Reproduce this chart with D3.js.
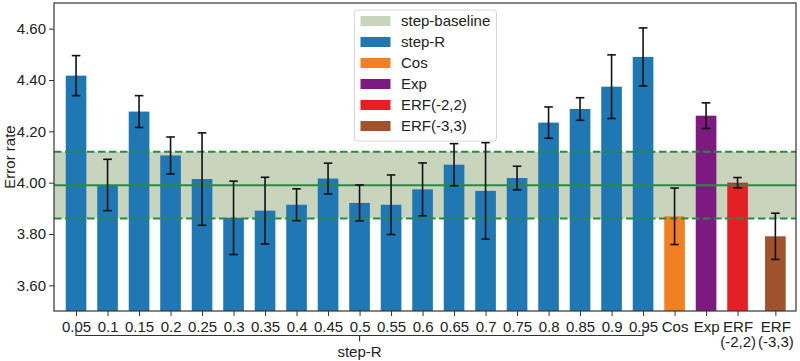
<!DOCTYPE html>
<html>
<head>
<meta charset="utf-8">
<script src="https://cdn.jsdelivr.net/npm/d3@7"></script>
<style>
  body { margin: 0; background: #fff; }
  svg { display: block; font-family: "Liberation Sans", Arial, sans-serif; }
</style>
</head>
<body>
<svg id="chart" width="800" height="361"></svg>
<script>
// Categories (x axis)
const categories = ["0.05", "0.1", "0.15", "0.2", "0.25", "0.3", "0.35", "0.4", "0.45", "0.5",
    "0.55", "0.6", "0.65", "0.7", "0.75", "0.8", "0.85", "0.9", "0.95",
    "Cos", "Exp", "ERF\n(-2,2)", "ERF\n(-3,3)"];

// Mean error rate per category
const values = [4.417, 3.991, 4.277, 4.106, 4.014, 3.863, 3.891, 3.914, 4.016, 3.921,
    3.914, 3.974, 4.070, 3.968, 4.018, 4.234, 4.287, 4.374, 4.490,
    3.869, 4.261, 4.000, 3.791];

// Error bar half-widths
const errors = [0.078, 0.100, 0.062, 0.072, 0.180, 0.143, 0.130, 0.062, 0.060, 0.070,
    0.116, 0.103, 0.082, 0.188, 0.046, 0.061, 0.044, 0.124, 0.113,
    0.110, 0.050, 0.020, 0.090];

// Group of each bar (used for colour)
const groups = categories.map((c, i) => i < 19 ? "step-R" : ["Cos", "Exp", "ERF(-2,2)", "ERF(-3,3)"][i - 19]);

// Baseline (mean and band)
const baselineMean = 3.99;
const baselineBand = [3.86, 4.12];

// Y ticks
const yTicks = [3.6, 3.8, 4.0, 4.2, 4.4, 4.6];

// Legend entries
const legendKeys = ["step-baseline", "step-R", "Cos", "Exp", "ERF(-2,2)", "ERF(-3,3)"];

const colors = {
    "step-baseline": "#c8d5bc",
    "step-R": "#1f77b4",
    "Cos": "#f28022",
    "Exp": "#7d1a7f",
    "ERF(-2,2)": "#e41f26",
    "ERF(-3,3)": "#a0522d"
};
const lineGreen = "#2a8a45";
const fontSize = "15px";

// Dimensions
const margin = {top: 3, right: 4, bottom: 50, left: 54};
const width = 800 - margin.left - margin.right;
const height = 361 - margin.top - margin.bottom;

const svg = d3.select("#chart");
const g = svg.append("g").attr("transform", `translate(${margin.left},${margin.top})`);

// Scales: slot index -> pixels (last bar sits a little further right, as in the original)
const lastGap = 0.2;
const slot = i => i === categories.length - 1 ? i + lastGap : i;
const x = d3.scaleLinear()
    .domain([-0.7, 22.855])
    .range([0, width]);
const xc = i => x(slot(i));
const barWidth = (x(1) - x(0)) * 0.655;

const y = d3.scaleLinear()
    .domain([3.5, 4.7])
    .range([height, 0]);

// Baseline band
g.append("rect")
    .attr("x", 0)
    .attr("width", width)
    .attr("y", y(baselineBand[1]))
    .attr("height", y(baselineBand[0]) - y(baselineBand[1]))
    .style("fill", colors["step-baseline"]);

// Bars
g.selectAll("rect.bar")
    .data(values)
    .enter()
    .append("rect")
    .attr("class", "bar")
    .attr("x", (d, i) => xc(i) - barWidth / 2)
    .attr("width", barWidth)
    .attr("y", d => y(d))
    .attr("height", d => height - y(d))
    .style("fill", (d, i) => colors[groups[i]]);

// Baseline lines (solid mean, dashed band edges)
g.append("line")
    .attr("x1", 0).attr("x2", width)
    .attr("y1", y(baselineMean)).attr("y2", y(baselineMean))
    .style("stroke", lineGreen).style("stroke-width", 2);

baselineBand.forEach(v => {
    g.append("line")
        .attr("x1", 0).attr("x2", width)
        .attr("y1", y(v)).attr("y2", y(v))
        .style("stroke", lineGreen).style("stroke-width", 2)
        .style("stroke-dasharray", "7.5,3.5");
});

// Error bars
const capW = 4.3;
const eb = g.selectAll("g.err")
    .data(values)
    .enter()
    .append("g")
    .attr("class", "err")
    .style("stroke", "#111")
    .style("stroke-width", 1.6);

eb.append("line")
    .attr("x1", (d, i) => xc(i)).attr("x2", (d, i) => xc(i))
    .attr("y1", (d, i) => y(d - errors[i])).attr("y2", (d, i) => y(d + errors[i]));
eb.append("line")
    .attr("x1", (d, i) => xc(i) - capW).attr("x2", (d, i) => xc(i) + capW)
    .attr("y1", (d, i) => y(d + errors[i])).attr("y2", (d, i) => y(d + errors[i]));
eb.append("line")
    .attr("x1", (d, i) => xc(i) - capW).attr("x2", (d, i) => xc(i) + capW)
    .attr("y1", (d, i) => y(d - errors[i])).attr("y2", (d, i) => y(d - errors[i]));

// Frame
g.append("rect")
    .attr("width", width).attr("height", height)
    .style("fill", "none").style("stroke", "#333").style("stroke-width", 1.2);

// Y axis
const yAxis = g.append("g")
    .call(d3.axisLeft(y).tickValues(yTicks).tickFormat(d3.format(".2f")).tickSize(5).tickPadding(3));
yAxis.select(".domain").remove();
yAxis.selectAll("line").style("stroke", "#333");
yAxis.selectAll("text").style("font-size", fontSize).style("fill", "#222");

svg.append("text")
    .attr("transform", `translate(15,${margin.top + height / 2}) rotate(-90)`)
    .attr("text-anchor", "middle")
    .style("font-size", fontSize)
    .style("fill", "#222")
    .text("Error rate");

// X axis (multi-line labels)
const xAxis = g.append("g")
    .attr("transform", `translate(0,${height})`)
    .call(d3.axisBottom(x)
        .tickValues(categories.map((c, i) => slot(i)))
        .tickFormat((d, i) => categories[i])
        .tickSize(5).tickPadding(5));
xAxis.select(".domain").remove();
xAxis.selectAll("line").style("stroke", "#333");
xAxis.selectAll("text")
    .style("font-size", fontSize)
    .style("fill", "#222")
    .each(function(d, i) {
        const t = d3.select(this);
        const lines = categories[i].split("\n");
        t.text(null);
        lines.forEach((l, k) => {
            t.append("tspan")
                .attr("x", 0)
                .attr("dy", k === 0 ? "0.71em" : "1.05em")
                .text(l);
        });
    });

// Bracket under the step-R group
const bx0 = xc(0);
const bx1 = xc(18);
const by = height + 24.5;
const bracket = g.append("g").style("stroke", "#333").style("stroke-width", 1.2).style("fill", "none");
bracket.append("path")
    .attr("d", `M${bx0},${by - 6}V${by}H${bx1}V${by - 6}`);
bracket.append("line")
    .attr("x1", (bx0 + bx1) / 2).attr("x2", (bx0 + bx1) / 2)
    .attr("y1", by).attr("y2", by + 6);
g.append("text")
    .attr("x", (bx0 + bx1) / 2)
    .attr("y", by + 21)
    .attr("text-anchor", "middle")
    .style("font-size", fontSize)
    .style("fill", "#222")
    .text("step-R");

// Legend
const legend = svg.append("g")
    .attr("transform", "translate(354.5,10)");
legend.append("rect")
    .attr("width", 142)
    .attr("height", 131)
    .attr("rx", 3)
    .style("fill", "#fff")
    .style("fill-opacity", 0.85)
    .style("stroke", "#d6d6d6");

legend.selectAll("g.item")
    .data(legendKeys)
    .enter()
    .append("g")
    .attr("class", "item")
    .attr("transform", (d, i) => `translate(0,${11 + i * 21})`)
    .each(function(d) {
        const item = d3.select(this);
        item.append("rect")
            .attr("x", 6)
            .attr("y", -5)
            .attr("width", 30)
            .attr("height", 10)
            .style("fill", colors[d]);
        item.append("text")
            .attr("x", 46.5)
            .attr("y", 0)
            .attr("dy", "0.35em")
            .style("font-size", fontSize)
            .style("fill", "#222")
            .text(d);
    });
</script>
</body>
</html>
